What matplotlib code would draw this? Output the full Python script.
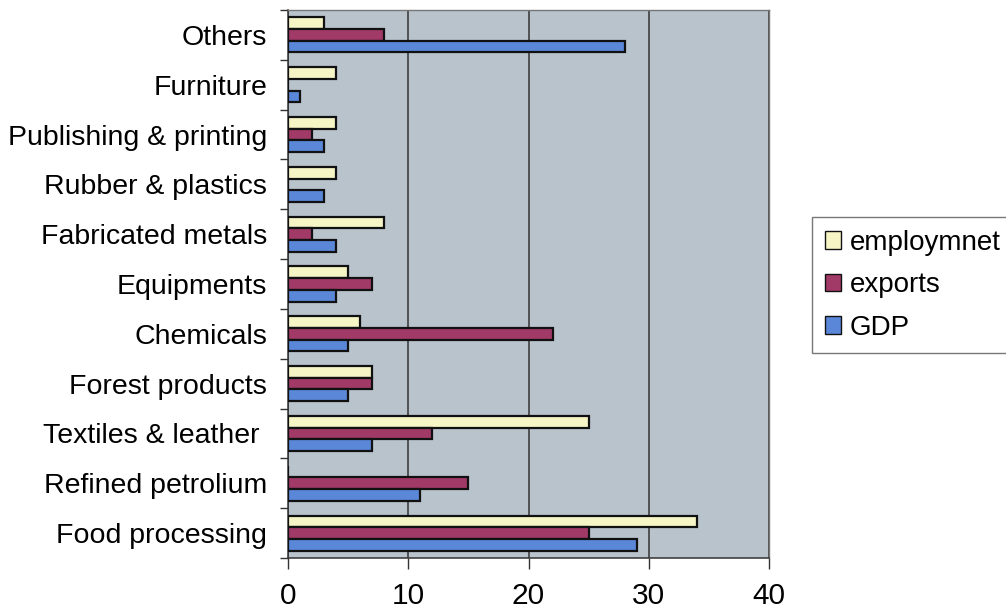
import numpy as np
import matplotlib.pyplot as plt
from matplotlib.patches import Patch

# Sector shares (%), listed bottom to top as drawn on the y axis
categories = ["Food processing", "Refined petrolium", "Textiles & leather ",
              "Forest products", "Chemicals", "Equipments", "Fabricated metals",
              "Rubber & plastics", "Publishing & printing", "Furniture", "Others"]
employment = [34, 0, 25, 7, 6, 5, 8, 4, 4, 4, 3]
exports = [25, 15, 12, 7, 22, 7, 2, 0, 2, 0, 8]
gdp = [29, 11, 7, 5, 5, 4, 4, 3, 3, 1, 28]
x_ticks = [0, 10, 20, 30, 40]

plt.rcParams['font.family'] = ['Liberation Sans', 'DejaVu Sans']

fig = plt.figure(figsize=(10.06, 6.13), dpi=100)
ax = fig.add_axes([288 / 1006, 1 - 558 / 613, (769 - 288) / 1006, (558 - 10) / 613])
ax.set_facecolor('#b9c3cc')

y = np.arange(len(categories))
h = 0.235
c_emp, c_exp, c_gdp = '#f6f5c6', '#a23a68', '#5b87d8'
kw = dict(height=h, edgecolor='#111111', linewidth=1.6, zorder=3)
ax.barh(y + h, employment, color=c_emp, **kw)
ax.barh(y, exports, color=c_exp, **kw)
ax.barh(y - h, gdp, color=c_gdp, **kw)

ax.set_xlim(0, 40)
ax.set_ylim(-0.5, len(categories) - 0.5)
ax.set_xticks(x_ticks)
ax.set_xticklabels([str(v) for v in x_ticks], fontsize=21.5)
ax.set_yticks(y)
ax.set_yticklabels(categories, fontsize=20.5)
ax.tick_params(axis='y', length=0, pad=15)
ax.set_yticks(np.arange(-0.5, len(categories), 1), minor=True)
ax.tick_params(axis='y', which='minor', length=6, width=1, color='#333333')
ax.tick_params(axis='x', length=8, width=1, color='#333333', pad=9)

ax.grid(axis='x', color='#333333', linewidth=1.1, zorder=1)
for s in ['left', 'bottom']:
    ax.spines[s].set_color('#333333')
    ax.spines[s].set_linewidth(1.1)
for s in ['top', 'right']:
    ax.spines[s].set_color('#777777')
    ax.spines[s].set_linewidth(1.0)

handles = [Patch(facecolor=c_emp, edgecolor='#111111', label='employmnet'),
           Patch(facecolor=c_exp, edgecolor='#111111', label='exports'),
           Patch(facecolor=c_gdp, edgecolor='#111111', label='GDP')]
leg = fig.legend(handles=handles, loc='upper left',
                 bbox_to_anchor=(812 / 1006, 1 - 217 / 613), borderaxespad=0,
                 fontsize=20, frameon=True, fancybox=False,
                 handlelength=0.6, handleheight=0.6, handletextpad=0.3,
                 labelspacing=0.6, borderpad=0.45)
leg.get_frame().set_edgecolor('#555555')
leg.get_frame().set_linewidth(1.0)

fig.savefig('out.png', dpi=100)
